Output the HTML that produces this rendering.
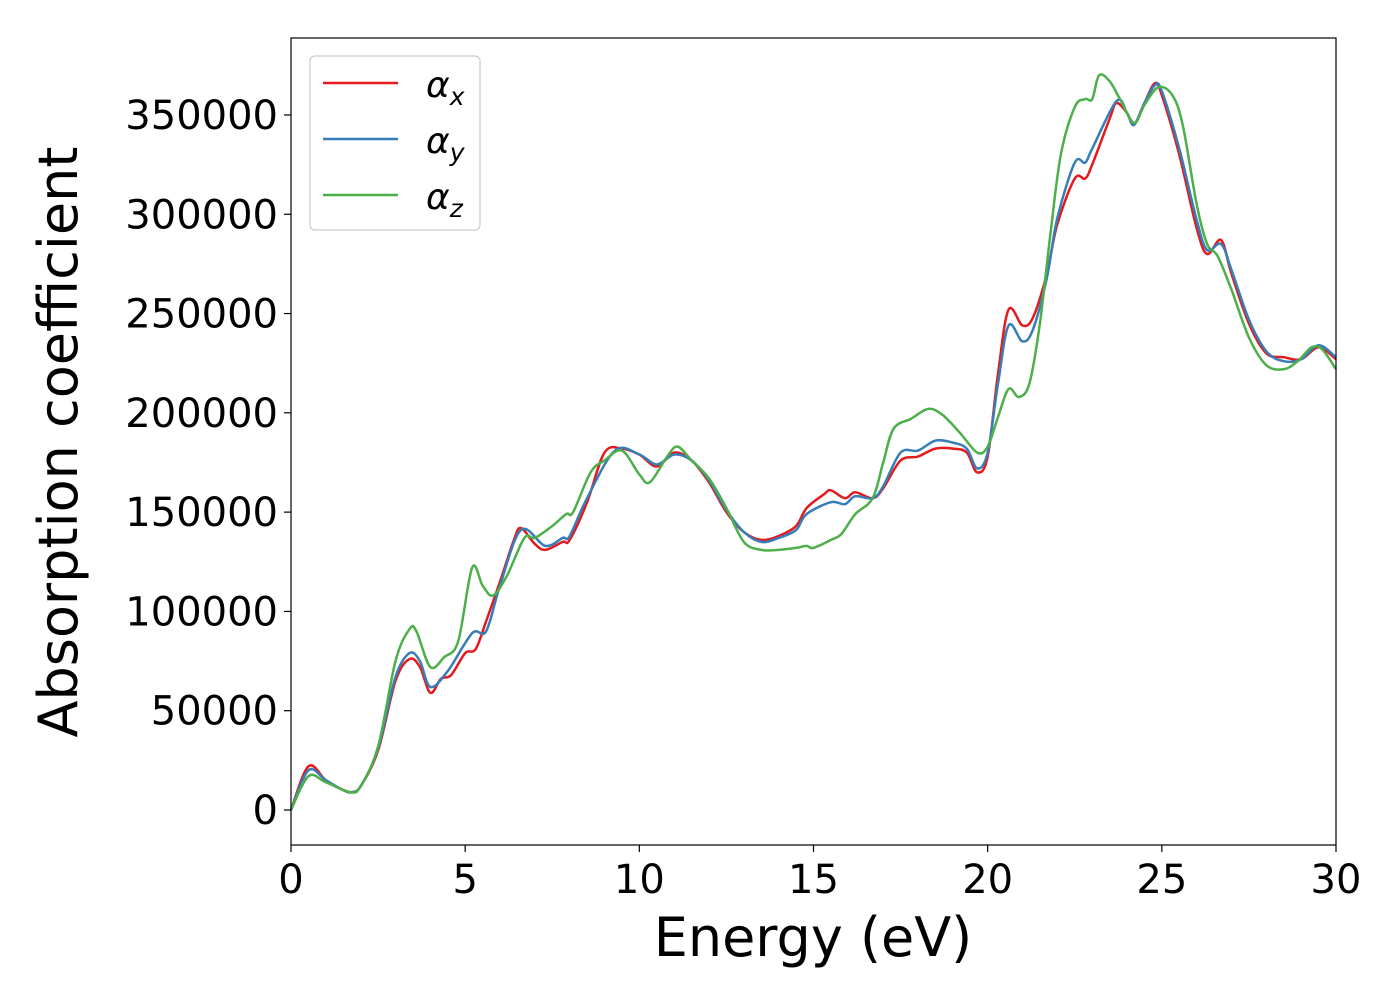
<!DOCTYPE html>
<html><head><meta charset="utf-8"><style>
body{margin:0;background:#fff;}
svg text{font-family:"DejaVu Sans","Liberation Sans",sans-serif;fill:#000;}
</style></head><body>
<svg id="chart" width="1400" height="1000" xmlns="http://www.w3.org/2000/svg">
<rect x="0" y="0" width="1400" height="1000" fill="#fff"/>
<g id="series"></g>
<rect x="291" y="38" width="1045" height="807" fill="none" stroke="#000" stroke-width="1.2"/>
<g id="axes"></g>
<text x="813" y="956" font-size="54" text-anchor="middle">Energy (eV)</text>
<text transform="translate(77,442) rotate(-90)" font-size="54" text-anchor="middle">Absorption coefficient</text>
<g>
<rect x="310" y="56" width="170" height="174" rx="5" fill="#fff" stroke="#ccc" stroke-width="1.2"/>
<g><line x1="323" y1="83" x2="398" y2="83" stroke="#e41a1c" stroke-width="2.5"/><text x="426" y="97" font-size="36" font-style="italic">α<tspan font-size="25" dy="8">x</tspan></text></g>
<g><line x1="323" y1="139" x2="398" y2="139" stroke="#377eb8" stroke-width="2.5"/><text x="426" y="153" font-size="36" font-style="italic">α<tspan font-size="25" dy="8">y</tspan></text></g>
<g><line x1="323" y1="195" x2="398" y2="195" stroke="#4daf4a" stroke-width="2.5"/><text x="426" y="209" font-size="36" font-style="italic">α<tspan font-size="25" dy="8">z</tspan></text></g>
</g>
</svg>
<script>
const xTicks=[0,5,10,15,20,25,30];
const yTicks=[0,50000,100000,150000,200000,250000,300000,350000];
const energyX=[0,0.5,1,1.5,1.75,2,2.5,3,3.4,3.7,4,4.3,4.6,5,5.3,5.6,6,6.4,6.6,7,7.3,7.8,8,8.5,9,9.5,10,10.5,11,11.5,12,12.5,13,13.5,14,14.5,14.8,15.3,15.5,15.9,16.2,16.7,17,17.5,18,18.5,19,19.4,19.7,20,20.3,20.6,21,21.3,21.7,22,22.5,22.8,23,23.5,23.7,24,24.2,24.5,24.8,25,25.5,26,26.3,26.7,27,27.5,28,28.5,29,29.5,30];
const alphaX=[0,22,15,10,9,12,30,65,76,72,59,66,68,79,81,95,115,136,142,134,131,135,136,155,180,182,179,173,180,176,165,150,140,136,138,143,152,159,161,157,160,157,162,176,178,182,182,180,170,178,220,252,244,248,270,295,318,318,325,348,356,351,345,356,366,360,330,293,280,287,270,245,230,228,227,233,227];
const energyY=[0,0.5,1,1.5,1.75,2,2.5,3,3.4,3.7,4,4.5,5.2,5.6,6,6.6,7.3,7.8,8,8.5,9.3,10,10.5,11,11.5,12,12.5,13,13.5,14,14.5,14.8,15.5,15.9,16.2,16.7,17,17.5,18,18.5,19,19.4,19.7,20,20.3,20.6,21,21.3,21.7,22,22.5,22.8,23,23.7,24,24.2,24.5,24.8,25,25.5,26,26.3,26.7,27,27.5,28,28.5,29,29.5,30];
const alphaY=[0,20,15,10,9,12,31,67,79,75,62,70,89,90,113,141,133,137,138,157,181,179,174,179,176,166,151,140,135,137,141,149,155,154,158,157,163,180,181,186,185,182,172,180,215,244,236,242,268,298,326,326,333,357,351,345,356,365,362,333,297,282,285,272,247,231,226,227,234,228];
const energyZ=[0,0.5,1,1.7,2,2.5,3,3.4,3.6,4,4.4,4.8,5.2,5.5,5.8,6.2,6.7,7,7.5,7.9,8.1,8.6,9,9.5,10,10.3,10.8,11.1,11.5,12,12.5,13,13.5,14,14.5,14.8,15,15.5,15.8,16.2,16.7,17,17.3,17.8,18.3,18.7,19.2,19.7,20,20.3,20.6,20.9,21.2,21.5,21.8,22.1,22.5,22.8,23,23.2,23.5,23.8,24.2,24.5,24.9,25.3,25.6,26,26.3,26.6,27,27.5,28,28.5,28.9,29.3,29.6,30];
const alphaZ=[0,17,14,9,12,32,75,91,90,72,77,85,122,113,108,118,137,137,143,149,150,170,176,181,169,165,178,183,176,167,152,135,131,131,132,133,132,136,139,149,157,175,192,197,202,199,190,180,183,198,212,208,215,245,290,330,354,358,358,370,367,358,346,355,364,360,345,305,285,279,262,238,224,222,226,233,232,222];
const NS="http://www.w3.org/2000/svg";
const X0=291,X1=1336,Y0=810,PY=99.29/50000;
function sx(e){return X0+(e-0)/(30-0)*(X1-X0);}
function sy(v){return Y0-v*PY;}
function smoothPath(xs,ys){
  const p=xs.map((e,i)=>[sx(e),sy(ys[i]*1000)]);
  let d="M"+p[0][0].toFixed(1)+","+p[0][1].toFixed(1);
  for(let i=0;i<p.length-1;i++){
    const a=p[Math.max(0,i-1)],b=p[i],c=p[i+1],n=p[Math.min(p.length-1,i+2)];
    const c1=[b[0]+(c[0]-a[0])/6,b[1]+(c[1]-a[1])/6],c2=[c[0]-(n[0]-b[0])/6,c[1]-(n[1]-b[1])/6];
    d+=" C"+c1[0].toFixed(1)+","+c1[1].toFixed(1)+" "+c2[0].toFixed(1)+","+c2[1].toFixed(1)+" "+c[0].toFixed(1)+","+c[1].toFixed(1);
  }
  return d;
}
const g=document.getElementById('series');
[[energyX,alphaX,'#e41a1c','line-alpha-x'],[energyY,alphaY,'#377eb8','line-alpha-y'],[energyZ,alphaZ,'#4daf4a','line-alpha-z']].forEach(s=>{
  const el=document.createElementNS(NS,'path');
  el.setAttribute('d',smoothPath(s[0],s[1]));
  el.setAttribute('fill','none');el.setAttribute('stroke',s[2]);el.setAttribute('stroke-width','2.5');
  
  
  g.appendChild(el);
});
const ax=document.getElementById('axes');
xTicks.forEach(t=>{
  const l=document.createElementNS(NS,'line');
  l.setAttribute('x1',sx(t));l.setAttribute('x2',sx(t));l.setAttribute('y1',845);l.setAttribute('y2',852);l.setAttribute('stroke','#000');l.setAttribute('stroke-width','1.2');
  
  
  ax.appendChild(l);
  const tx=document.createElementNS(NS,'text');
  tx.setAttribute('x',sx(t));tx.setAttribute('y',893);tx.setAttribute('font-size','40');tx.setAttribute('text-anchor','middle');
  tx.textContent=t;
  
  
  ax.appendChild(tx);
});
yTicks.forEach(t=>{
  const l=document.createElementNS(NS,'line');
  l.setAttribute('x1',284);l.setAttribute('x2',291);l.setAttribute('y1',sy(t));l.setAttribute('y2',sy(t));l.setAttribute('stroke','#000');l.setAttribute('stroke-width','1.2');
  
  
  ax.appendChild(l);
  const tx=document.createElementNS(NS,'text');
  tx.setAttribute('x',278);tx.setAttribute('y',sy(t)+14);tx.setAttribute('font-size','40');tx.setAttribute('text-anchor','end');
  tx.textContent=t;
  
  
  ax.appendChild(tx);
});
</script>
</body></html>
